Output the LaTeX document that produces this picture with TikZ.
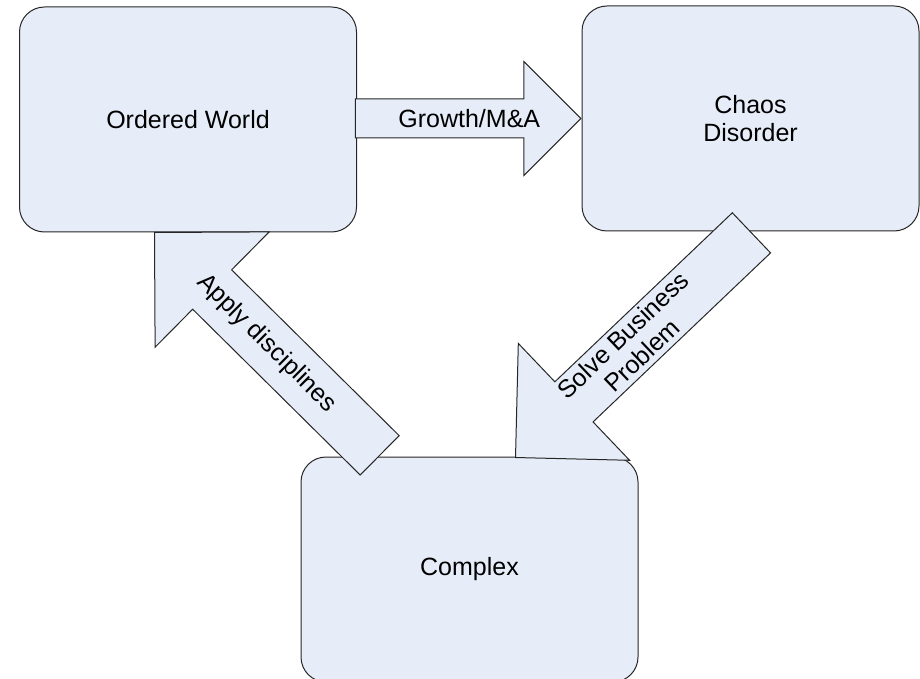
\documentclass[tikz,border=0pt]{standalone}
\usepackage{fontspec}
\setmainfont{Liberation Sans}
\usetikzlibrary{shapes.arrows,calc}
\definecolor{boxfill}{RGB}{231,237,248}
\tikzset{
  stagebox/.style={draw=black!85,fill=boxfill,line width=0.5pt,rounded corners=12.5pt,
    minimum width=168.5pt,minimum height=112.5pt,align=center,
    font=\fontsize{12.5}{14}\selectfont},
  blockarrow/.style={draw=black!85,fill=boxfill,line width=0.5pt,single arrow,
    single arrow head indent=0pt,single arrow tip angle=90,inner sep=0pt,
    text depth=0pt,anchor=tip},
  arrowtext/.style={align=center,inner sep=0pt,font=\fontsize{12.5}{14}\selectfont}
}
\begin{document}
\begin{tikzpicture}[x=0.5pt,y=-0.5pt]
\useasboundingbox (0,0) rectangle (920,679);
\node[stagebox] (ordered) at (188,119.5) {Ordered World};
\node[stagebox] (chaos) at (750.5,118.5) {Chaos\\Disorder};
\node[stagebox] (complex) at (469.5,569.5) {Complex};
\coordinate (applytail) at (379,455);
\coordinate (applytip) at (154,232);
\coordinate (solvetail) at (750,232.5);
\coordinate (solvetip) at (515,458);
% block arrows between the stages
\node[blockarrow,minimum height=112.75pt,minimum width=56.5pt,single arrow head extend=18.75pt,
  text height=19pt] (growth) at (chaos.west) {};
\node[arrowtext] (growthtext) at ($(ordered.east)!0.5!(chaos.west)$) {Growth/M\&A};
\node[blockarrow,minimum height=158.4pt,minimum width=80.5pt,single arrow head extend=26.7pt,
  text height=27.2pt,shape border rotate=180,rotate=-44.7] (apply) at (applytip) {};
\node[arrowtext,rotate=-44.7] (applytext) at ($(applytail)!0.5!(applytip)$) {Apply disciplines};
\node[blockarrow,minimum height=162.9pt,minimum width=80.3pt,single arrow head extend=26.5pt,
  text height=27.2pt,shape border rotate=180,rotate=43.6] (solve) at (solvetip) {};
\node[arrowtext,rotate=43.6] (solvetext) at ($(solvetail)!0.5!(solvetip)$) {Solve Business\\Problem};
\end{tikzpicture}
\end{document}
